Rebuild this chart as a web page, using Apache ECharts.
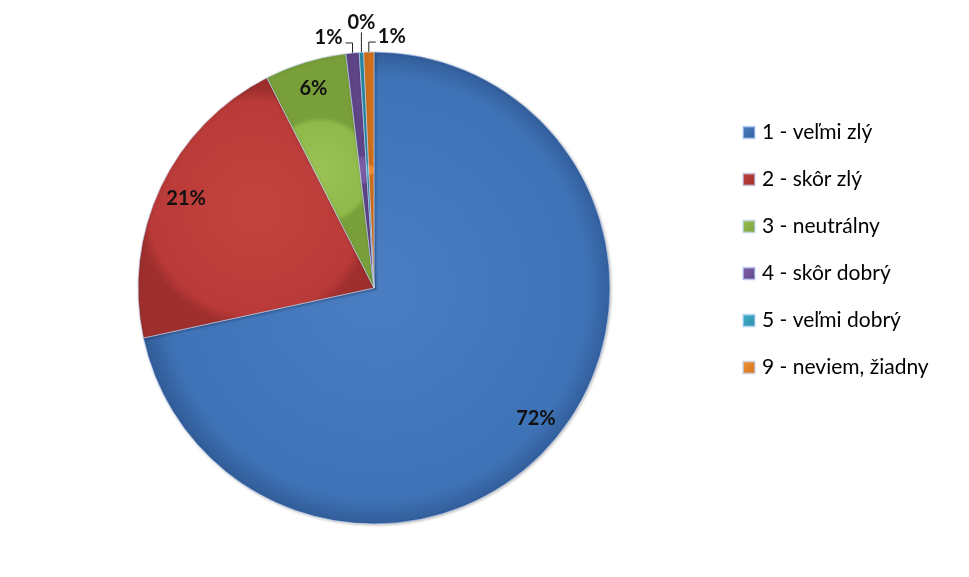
<!DOCTYPE html>
<html>
<head>
<meta charset="utf-8">
<script src="https://cdn.jsdelivr.net/npm/echarts@6/dist/echarts.min.js"></script>
<style>html,body{margin:0;padding:0;background:#fff}#c{width:969px;height:577px}</style>
</head>
<body>
<div id="c"></div>
<script>
var categories = ['1 - veľmi zlý', '2 - skôr zlý', '3 - neutrálny', '4 - skôr dobrý', '5 - veľmi dobrý', '9 - neviem, žiadny'];
var values = [71.6, 20.9, 5.6, 0.9, 0.3, 0.7];
var baseColors = ['#3f73b8', '#b93a38', '#8fb94a', '#7556a0', '#36a6c3', '#f0872a'];
var edgeColors = ['#335f9c', '#9e2f2d', '#799f3a', '#5f4587', '#2a8aa4', '#d0701c'];
var lightColors = ['#4a7dc2', '#c3433f', '#9bc256', '#8063aa', '#45b2ce', '#f6963c'];

function grad(i) {
  return {
    type: 'radial', x: 0.5, y: 0.5, r: 0.5,
    colorStops: [
      { offset: 0, color: lightColors[i] },
      { offset: 0.9, color: baseColors[i] },
      { offset: 1, color: edgeColors[i] }
    ]
  };
}
function legendGrad(i) {
  return {
    type: 'linear', x: 0, y: 0, x2: 1, y2: 1,
    colorStops: [
      { offset: 0, color: lightColors[i] },
      { offset: 1, color: edgeColors[i] }
    ]
  };
}

var mainData = categories.map(function (c, i) {
  return {
    name: c, value: values[i],
    itemStyle: { color: grad(i) },
    label: { show: i >= 3 },
    labelLine: { show: i >= 3 }
  };
});
var overlayData = categories.map(function (c, i) {
  return { name: c, value: values[i], label: { show: i < 3 } };
});

function pct(p) { return Math.round(p.percent) + '%'; }

var chart = echarts.init(document.getElementById('c'));
chart.setOption({
  animation: false,
  color: baseColors,
  legend: {
    orient: 'vertical',
    left: 742, top: 122,
    padding: 0,
    itemWidth: 12, itemHeight: 12, itemGap: 26,
    icon: 'rect',
    textStyle: { fontFamily: 'Lato', fontSize: 21, color: '#000', padding: [0, 0, 0, 2] },
    data: categories.map(function (c, i) {
      return { name: c, itemStyle: { color: legendGrad(i) } };
    })
  },
  series: [
    {
      type: 'pie',
      center: [374, 288],
      radius: 236,
      startAngle: 90,
      clockwise: true,
      avoidLabelOverlap: false,
      silent: true,
      itemStyle: { borderColor: 'rgba(200,220,255,0.6)', borderWidth: 1, shadowBlur: 3, shadowColor: 'rgba(0,0,0,0.25)', shadowOffsetX: 1, shadowOffsetY: 1 },
      label: {
        position: 'outside',
        formatter: pct,
        fontFamily: 'Lato', fontWeight: 'bold', fontSize: 20, color: '#111'
      },
      labelLine: { length: 8, length2: 6, lineStyle: { color: '#222', width: 1 } },
      labelLayout: function (p) {
        if (!p.labelLinePoints) return {};
        var p0 = p.labelLinePoints[0];
        var w = p.labelRect.width;
        if (p.dataIndex === 3) {
          return {
            x: p0[0] - 10 - w, y: p0[1] - 15, align: 'left', verticalAlign: 'middle',
            labelLinePoints: [p0, [p0[0], p0[1] - 10], [p0[0] - 7, p0[1] - 10]]
          };
        }
        if (p.dataIndex === 4) {
          return {
            x: p0[0] - w / 2, y: p0[1] - 30, align: 'left', verticalAlign: 'middle',
            labelLinePoints: [p0, [p0[0], p0[1] - 10], [p0[0], p0[1] - 20]]
          };
        }
        if (p.dataIndex === 5) {
          return {
            x: p0[0] + 9, y: p0[1] - 16, align: 'left', verticalAlign: 'middle',
            labelLinePoints: [p0, [p0[0], p0[1] - 10], [p0[0] + 7, p0[1] - 10]]
          };
        }
        return {};
      },
      data: mainData
    },
    {
      type: 'pie',
      center: [374, 288],
      radius: [174, 236],
      startAngle: 90,
      clockwise: true,
      silent: true,
      avoidLabelOverlap: false,
      itemStyle: { color: 'rgba(0,0,0,0)' },
      label: {
        position: 'inside',
        formatter: pct,
        fontFamily: 'Lato', fontWeight: 'bold', fontSize: 20, color: '#111'
      },
      labelLine: { show: false },
      data: overlayData
    }
  ]
});
</script>
</body>
</html>
